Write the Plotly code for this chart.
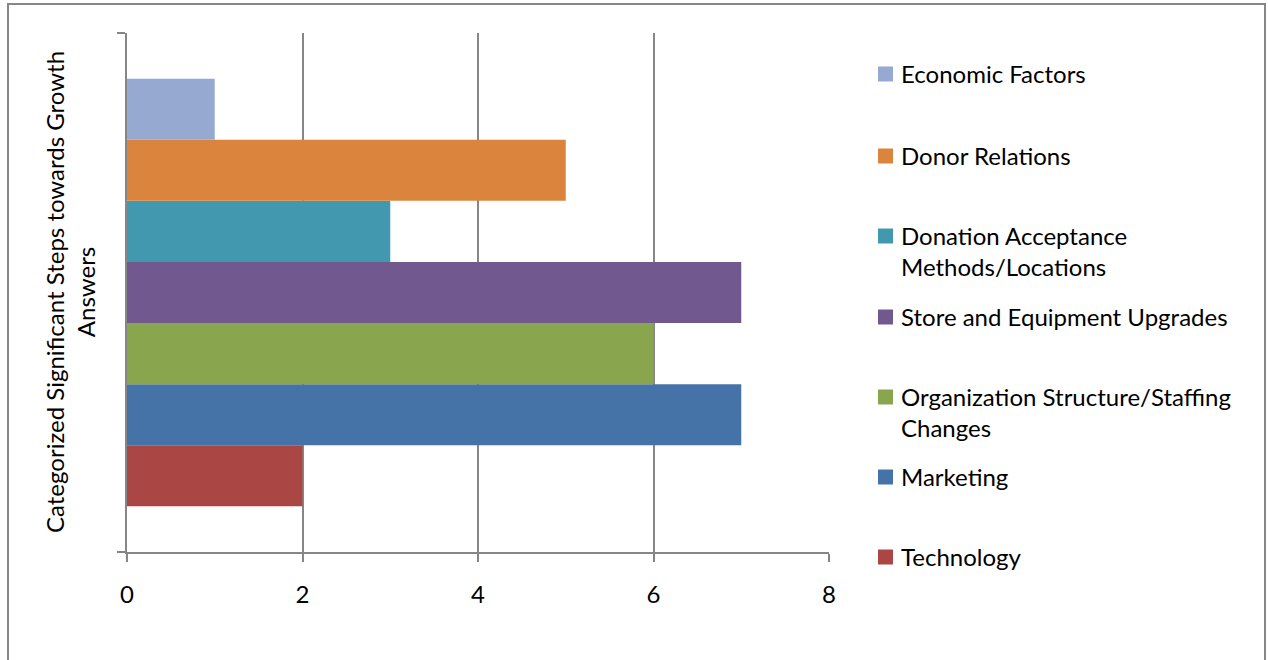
import plotly.graph_objects as go

# Data (series order: bottom bar first, as drawn)
series_names = [
    "Technology",
    "Marketing",
    "Organization Structure/Staffing<br>Changes",
    "Store and Equipment Upgrades",
    "Donation Acceptance<br>Methods/Locations",
    "Donor Relations",
    "Economic Factors",
]
series_values = [2, 7, 6, 7, 3, 5, 1]
series_colors = ["#AA4643", "#4572A7", "#89A54E", "#71588F", "#4198AF", "#DB843D", "#95A9D1"]
category = ["Answers"]
x_ticks = [0, 2, 4, 6, 8]

W, H = 1268, 660
L, R, T, B = 127, 439, 33, 108
pw, ph = W - L - R, H - T - B

def px(x):
    return (x - L) / pw

def py(y):
    return (H - B - y) / ph

FONT = "Lato"
FS = 24
GRAY = "#868686"

fig = go.Figure()
for name, val, col in zip(series_names, series_values, series_colors):
    fig.add_trace(go.Bar(
        x=[val], y=category, orientation="h", name=name.replace("<br>", " "),
        marker=dict(color=col, line=dict(width=0)), showlegend=False,
    ))

shapes = []
annotations = []
# outer chart border
shapes.append(dict(type="rect", xref="paper", yref="paper",
                   x0=px(8), x1=px(1265), y0=py(700), y1=py(4),
                   line=dict(color=GRAY, width=2), fillcolor="rgba(0,0,0,0)", layer="below"))

# manual legend (top to bottom)
leg_y = [74, 156, 236, 317, 397, 477, 557]
for i, (name, col) in enumerate(zip(series_names[::-1], series_colors[::-1])):
    cy = leg_y[i]
    shapes.append(dict(type="rect", xref="paper", yref="paper",
                       x0=px(878), x1=px(893), y0=py(cy + 7.5), y1=py(cy - 7.5),
                       fillcolor=col, line=dict(width=0)))
    annotations.append(dict(xref="paper", yref="paper", x=px(899), y=py(cy - 17),
                            xanchor="left", yanchor="top", align="left",
                            text=name, showarrow=False,
                            font=dict(family=FONT, size=FS, color="#000000")))

# y-axis title
annotations.append(dict(xref="paper", yref="paper", x=px(70), y=py(292),
                        xanchor="center", yanchor="middle", textangle=-90,
                        text="Categorized Significant Steps towards Growth<br>Answers",
                        showarrow=False, font=dict(family=FONT, size=FS, color="#000000")))

fig.update_layout(
    width=W, height=H,
    margin=dict(l=L, r=R, t=T, b=B, pad=0),
    paper_bgcolor="white", plot_bgcolor="white",
    barmode="group", bargap=0.176, bargroupgap=0,
    font=dict(family=FONT, size=FS, color="#000000"),
    shapes=shapes, annotations=annotations,
    showlegend=False,
)
fig.update_xaxes(
    range=[0, 8], tickvals=x_ticks, ticktext=[str(v) for v in x_ticks],
    showgrid=True, gridcolor=GRAY, gridwidth=1.5,
    showline=True, linecolor=GRAY, linewidth=1.8,
    ticks="outside", ticklen=8, tickcolor=GRAY, tickwidth=1.5,
    ticklabelstandoff=12,
    tickfont=dict(family=FONT, size=FS, color="#000000"),
    zeroline=False, fixedrange=True,
)
fig.update_yaxes(
    type="category", range=[-0.5, 0.5], showticklabels=False,
    showline=True, linecolor=GRAY, linewidth=1.8,
    ticks="outside", ticklen=8, tickcolor=GRAY, tickwidth=1.5, tickson="boundaries",
    showgrid=False, zeroline=False, fixedrange=True,
)

fig.write_html("out.html", config={"displayModeBar": False})
